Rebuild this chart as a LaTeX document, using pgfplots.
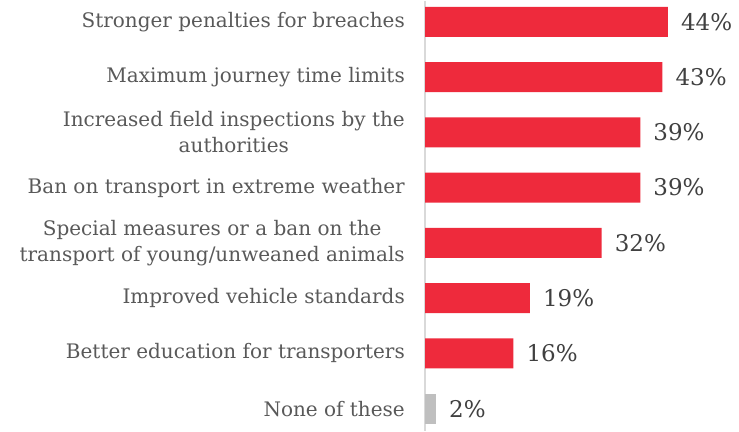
\documentclass[border=0pt]{standalone}
\usepackage{pgfplots}
\pgfplotsset{compat=1.18}
\usepackage{fontspec}
\setmainfont{DejaVu Serif}
\definecolor{barred}{HTML}{EE2A3C}
\definecolor{bargray}{HTML}{BFBFBF}
\definecolor{axgray}{HTML}{D9D9D9}
\definecolor{lbl}{HTML}{595959}
\definecolor{val}{HTML}{404040}
\begin{document}
\begin{tikzpicture}
\begin{axis}[
  name=ax,
  scale only axis, width=276pt, height=430pt,
  xmin=0, xmax=50, ymin=0.62, ymax=8.398, y dir=reverse,
  axis x line=none, axis y line*=left,
  axis line style={axgray, line width=1.5pt},
  ytick={1,...,8}, major tick length=0pt,
  yticklabels={Stronger penalties for breaches, Maximum journey time limits, {Increased field inspections by the\\authorities}, Ban on transport in extreme weather, {Special measures or a ban on the\\transport of young/unweaned animals}, Improved vehicle standards, Better education for transporters, None of these},
  yticklabel style={align=center, font=\fontsize{20}{26}\selectfont, text=lbl, inner sep=0pt, xshift=-20pt},
  clip=false,
  /pgf/number format/assume math mode=true,
  nodes near coords={\pgfmathprintnumber{\pgfplotspointmeta}\%},
  nodes near coords align=horizontal,
  every node near coord/.append style={font=\fontsize{23}{26}\selectfont, text=val, anchor=west, inner sep=0pt, xshift=13pt},
  point meta=explicit,
]
\addplot[xbar, bar width=30pt, bar shift=0pt, fill=barred, draw=none] coordinates {(44,1)[44] (43,2)[43] (39,3)[39] (39,4)[39] (32,5)[32] (19,6)[19] (16,7)[16]};
\addplot[xbar, bar width=30pt, bar shift=0pt, fill=bargray, draw=none] coordinates {(2,8)[2]};
\end{axis}
\path[use as bounding box] ([xshift=-425pt]ax.south west) rectangle ([xshift=38pt]ax.north east);
\end{tikzpicture}
\end{document}
